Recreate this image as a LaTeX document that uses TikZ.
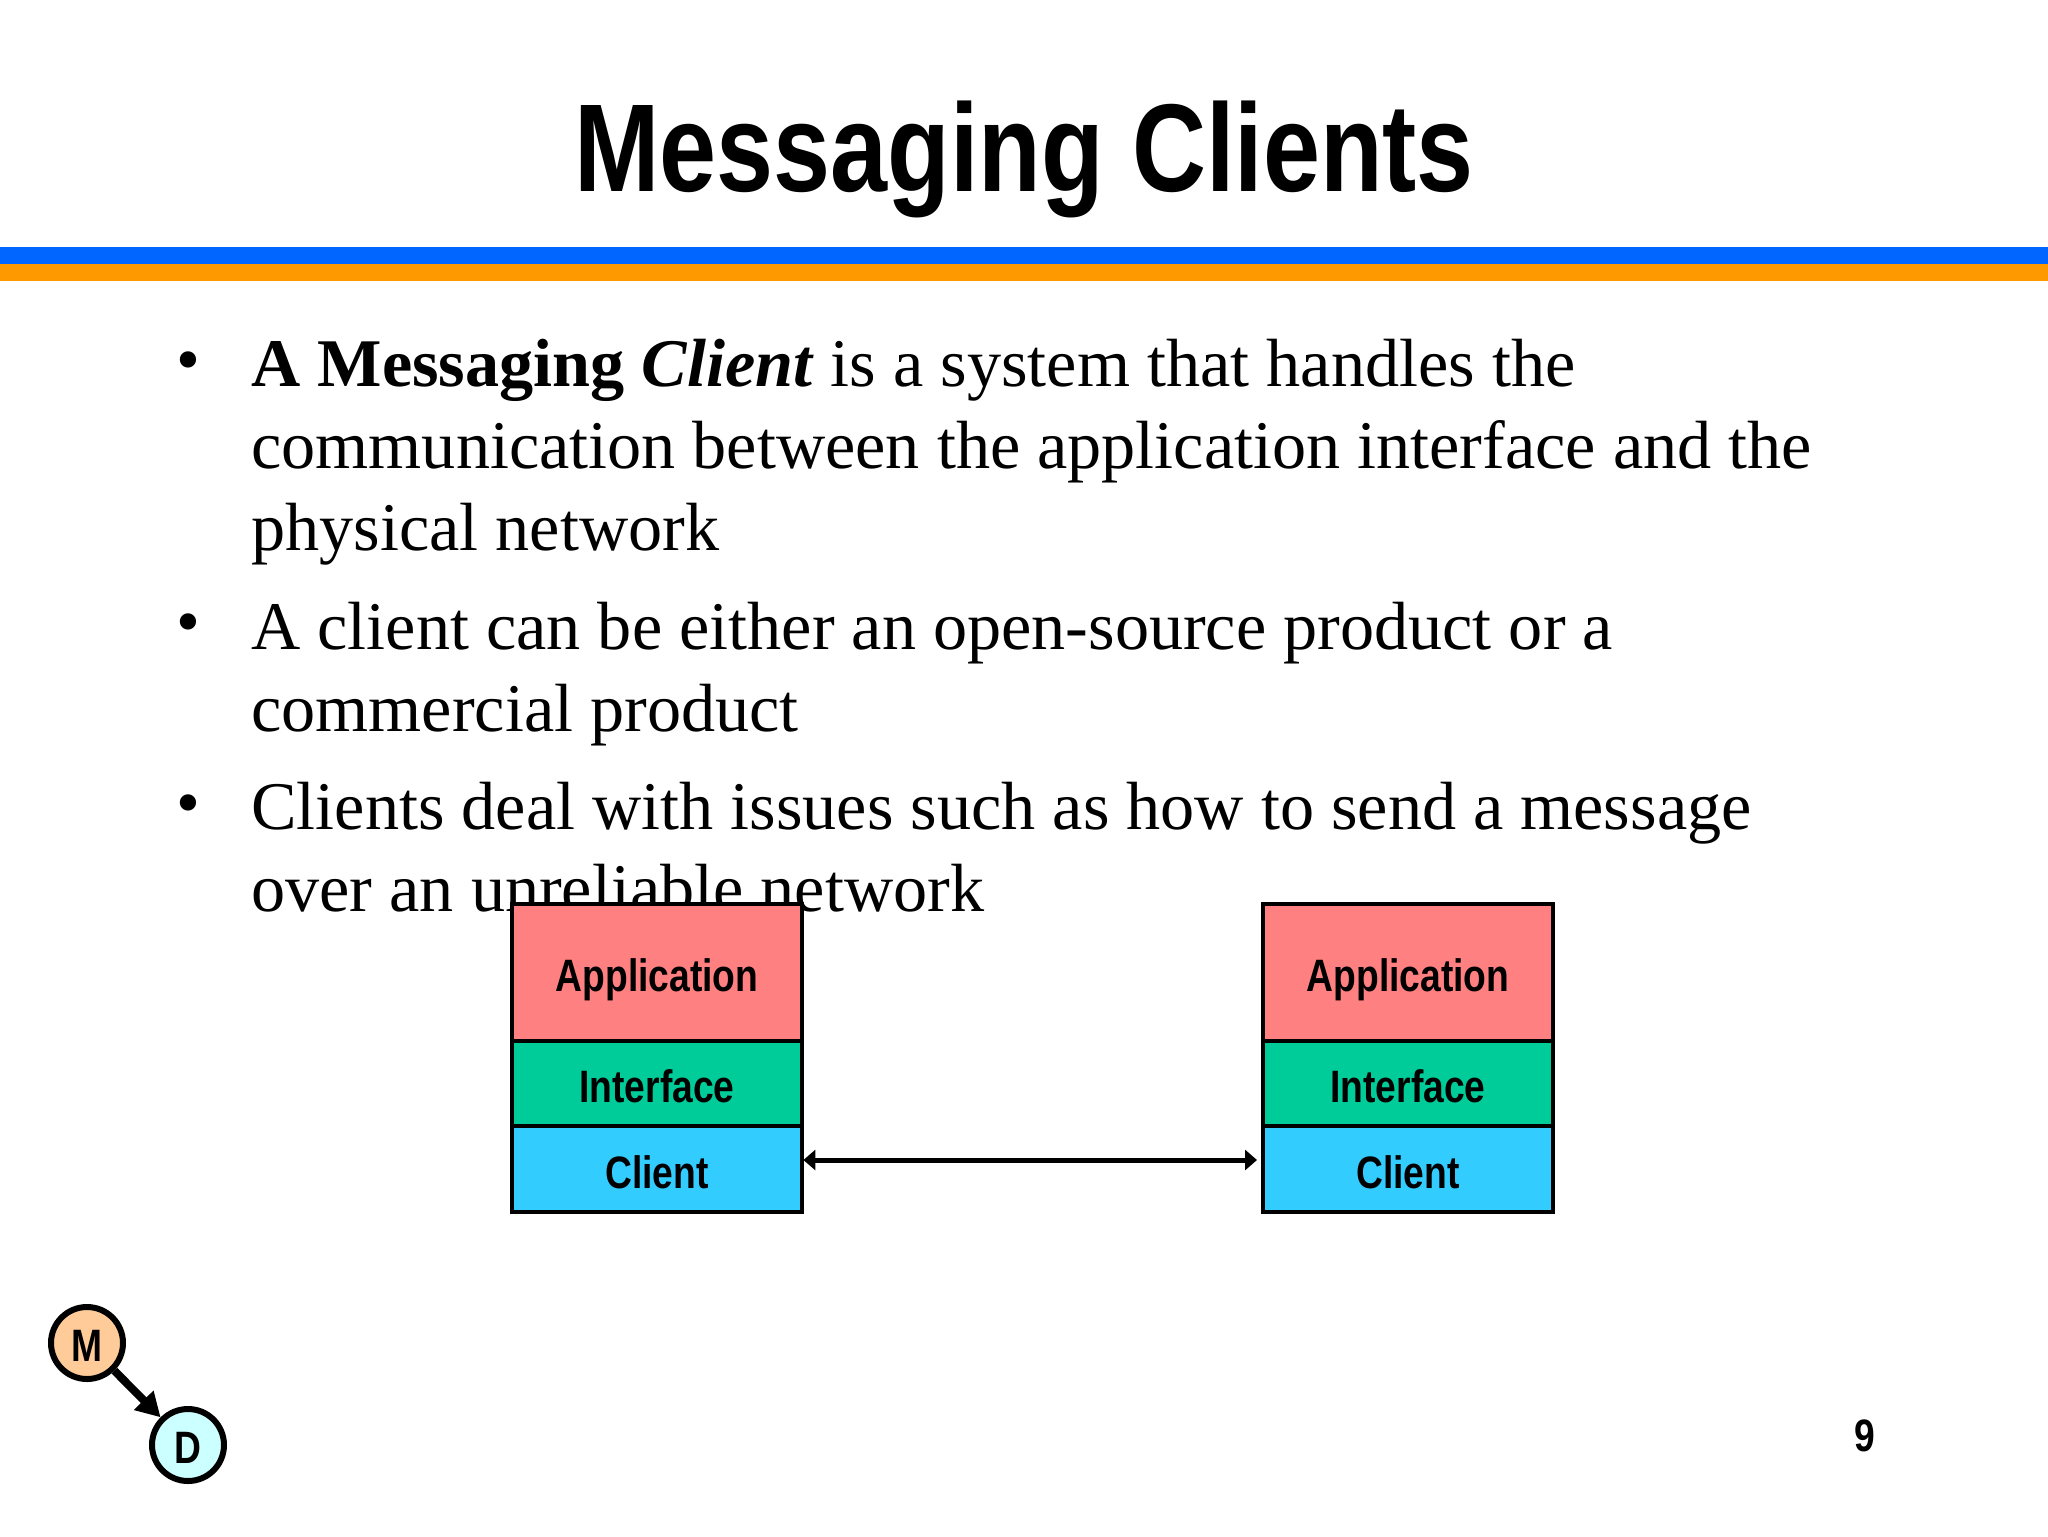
\documentclass[tikz,border=0pt]{standalone}
\usepackage{fontspec}
\usetikzlibrary{positioning,arrows.meta}
\setmainfont{Liberation Serif}
\newfontfamily\narrowfont[FakeStretch=0.82]{Liberation Sans}

\definecolor{stripeblue}{HTML}{0066FF}
\definecolor{stripeorange}{HTML}{FF9900}
\definecolor{appred}{HTML}{FF8080}
\definecolor{ifgreen}{HTML}{00CC99}
\definecolor{clientblue}{HTML}{33CCFF}
\definecolor{mpeach}{HTML}{FFCC99}
\definecolor{dcyan}{HTML}{CCFFFF}

\tikzset{para/.style = {anchor=north west, inner sep=0pt, align=left,
                        font=\fontsize{34.1}{41}\selectfont},
         puce/.style = {anchor=base, inner sep=0pt, font=\fontsize{34.1}{41}\selectfont},
         layer/.style = {draw, line width=1.6pt, minimum width=145pt, inner sep=0pt, outer sep=0pt,
                         text height=19pt, text depth=0pt,
                         font=\narrowfont\bfseries\fontsize{22.7}{24}\selectfont},
         appbox/.style = {layer, fill=appred, minimum height=68.5pt},
         ifbox/.style = {layer, fill=ifgreen, minimum height=42.5pt},
         clientbox/.style = {layer, fill=clientblue, minimum height=43pt},
         rond/.style = {circle, draw, line width=3pt, minimum size=36pt, inner sep=0pt, outer sep=1.5pt,
                        text height=18pt, text depth=0pt,
                        font=\narrowfont\bfseries\fontsize{22.7}{24}\selectfont},
         liaison/.style = {{Triangle[length=6pt,width=10pt]}-{Triangle[length=6pt,width=10pt]}, line width=2.5pt}
        }

\begin{document}
\begin{tikzpicture}[x=0.5pt,y=-0.5pt]
  \useasboundingbox (0,0) rectangle (2048,1536);
  % title and stripes
  \node (titre) [anchor=base, inner sep=0pt, font=\narrowfont\bfseries\fontsize{62.5}{62.5}\selectfont] at (1024,191) {Messaging Clients};
  \fill[stripeblue] (0,247) rectangle (2048,264);
  \fill[stripeorange] (0,264) rectangle (2048,281);
  % bullets
  \node (puce1) [puce] at (188,382.5) {•};
  \node (puce2) [puce] at (188,644) {•};
  \node (puce3) [puce] at (188,825) {•};
  \node (texte1) [para] at (251,339) {\textbf{A Messaging \textit{Client}} is a system that handles the\\communication between the application interface and the\\physical network};
  \node (texte2) [para] at (251,601.5) {A client can be either an open-source product or a\\commercial product};
  \node (texte3) [para] at (251,782) {Clients deal with issues such as how to send a message\\over an unreliable network};
  % left stack
  \node (app1) [appbox] at (657,972.5) {Application};
  \node (if1) [ifbox, below=0pt of app1] {Interface};
  \node (client1) [clientbox, below=0pt of if1] {Client};
  % right stack
  \node (app2) [appbox] at (1408,972.5) {Application};
  \node (if2) [ifbox, below=0pt of app2] {Interface};
  \node (client2) [clientbox, below=0pt of if2] {Client};
  \draw[liaison, shorten >=3pt, shorten <=0.7pt] ([yshift=4.5pt]client1.east) -- ([yshift=4.5pt]client2.west);
  % logo
  \node (m) [rond, fill=mpeach] at (87,1343) {M};
  \node (d) [rond, fill=dcyan] at (188,1445) {D};
  \draw[-{Triangle[length=12pt,width=13pt]}, line width=4pt] (m) -- (d);
  \node (page) [anchor=base, inner sep=0pt, font=\narrowfont\bfseries\fontsize{22.7}{24}\selectfont] at (1865,1451) {9};
\end{tikzpicture}
\end{document}
